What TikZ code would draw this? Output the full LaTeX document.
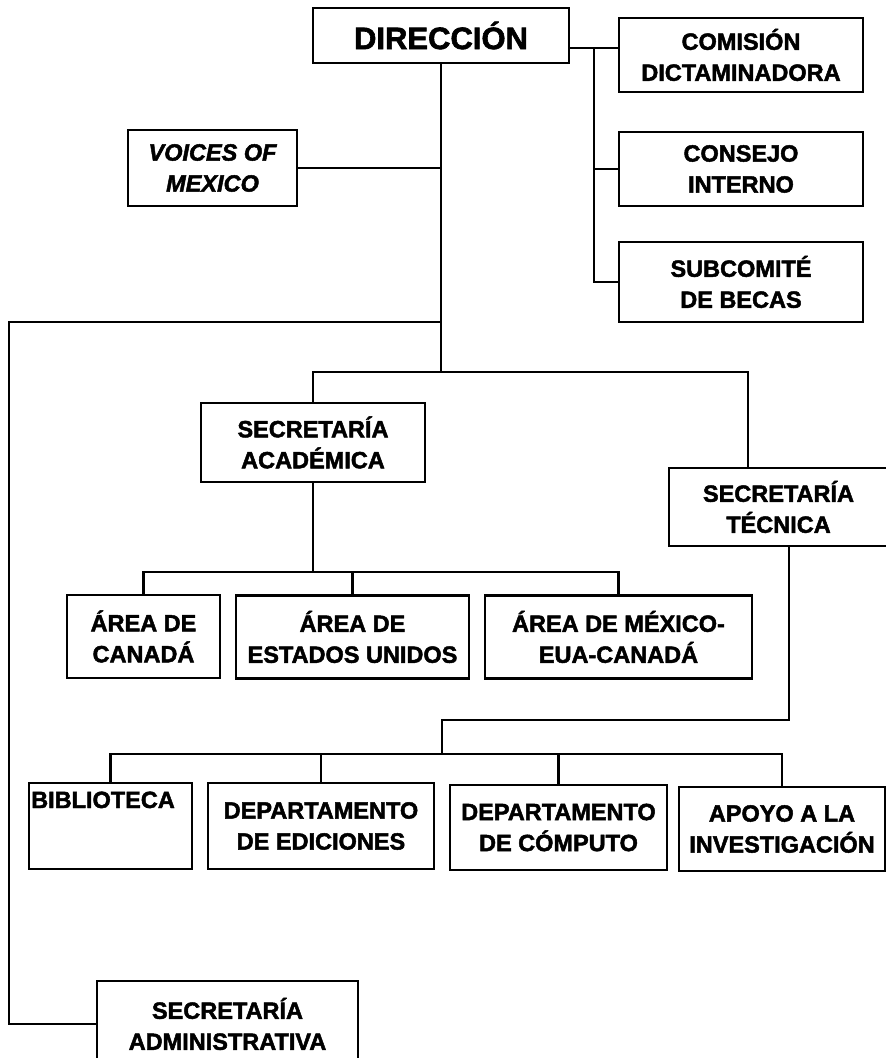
\documentclass[tikz,border=0pt]{standalone}
\usepackage{fontspec}
\setmainfont{Liberation Sans}[BoldFeatures={FakeBold=2},BoldItalicFeatures={FakeBold=2}]
\begin{document}
\begin{tikzpicture}[x=1pt,y=-1pt,
  box/.style={draw, line width=2.6pt, rectangle, align=center, inner sep=0pt,
    font=\fontsize{23.5}{31}\selectfont\bfseries},
  conn/.style={line width=2.5pt, line join=miter}]
\useasboundingbox (0,0) rectangle (886,1058);
\clip (0,0) rectangle (886,1058);
\fill[white] (0,0) rectangle (886,1058);

% boxes
\node[box, minimum width=256pt, minimum height=55pt,
  font=\fontsize{31}{36}\selectfont\bfseries] (dir) at (441,35.5) {DIRECCIÓN};
\node[box, minimum width=244pt, minimum height=74pt] (com) at (741,55) {COMISIÓN\\DICTAMINADORA};
\node[box, minimum width=244pt, minimum height=74pt] (con) at (741,169) {CONSEJO\\INTERNO};
\node[box, minimum width=244pt, minimum height=80pt] (sub) at (741,282) {SUBCOMITÉ\\DE BECAS};
\node[box, minimum width=169pt, minimum height=76pt,
  font=\fontsize{23.5}{31}\selectfont\bfseries\itshape] (voi) at (212.5,168) {VOICES OF\\MEXICO};
\node[box, minimum width=224pt, minimum height=79pt] (sa) at (313,442.5) {SECRETARÍA\\ACADÉMICA};
\node[box, minimum width=219pt, minimum height=78pt] (st) at (778.5,507) {SECRETARÍA\\TÉCNICA};
\node[box, minimum width=153pt, minimum height=83pt] (can) at (143.5,636.5) {ÁREA DE\\CANADÁ};
\node[box, minimum width=233pt, minimum height=83pt] (eu) at (352.5,637) {ÁREA DE\\ESTADOS UNIDOS};
\node[box, minimum width=267pt, minimum height=83pt] (mex) at (618.5,637) {ÁREA DE MÉXICO-\\EUA-CANADÁ};
\node[box, minimum width=163pt, minimum height=86pt] (bib) at (110.5,826) {};
\node[anchor=base west, inner sep=0pt, font=\fontsize{23.5}{31}\selectfont\bfseries] (bibt) at (31,808) {BIBLIOTECA};
\node[box, minimum width=226pt, minimum height=86pt] (edi) at (321,826) {DEPARTAMENTO\\DE EDICIONES};
\node[box, minimum width=217pt, minimum height=85pt] (cmp) at (558.5,827.5) {DEPARTAMENTO\\DE CÓMPUTO};
\node[box, minimum width=206pt, minimum height=84pt] (apo) at (782,829) {APOYO A LA\\INVESTIGACIÓN};
\node[box, minimum width=261pt, minimum height=86pt] (adm) at (227.5,1024) {SECRETARÍA\\ADMINISTRATIVA};

% junction coordinates
\coordinate (barL) at (441,322);
\coordinate (barA) at (441,372);
\coordinate (lc) at (9,322);
\coordinate (rj) at (594,48);
\coordinate (barB) at (313,572);
\coordinate (tj) at (442,720);
\coordinate (barC) at (442,754);

% connectors
\draw[conn] (dir.south) -- (barA);
\draw[conn] (voi.east) -- (voi.east -| dir.south);
\draw[conn] (barL) -- (lc) |- (adm.west);
\draw[conn] (dir.east |- rj) -- (com.west |- rj);
\draw[conn] (rj) |- (sub.west);
\draw[conn] (rj |- con.west) -- (con.west);
\draw[conn] (sa.north) |- (barA) -| ([xshift=-30.5pt]st.north);
\draw[conn] (sa.south) -- (barB);
\draw[conn] (can.north) |- (barB) -| (mex.north);
\draw[conn] (eu.north) -- (eu.north |- barB);
\draw[conn] ([xshift=10.5pt]st.south) |- (tj) -- (barC);
\draw[conn] (bib.north) |- (barC) -| (apo.north);
\draw[conn] (edi.north) -- (edi.north |- barC);
\draw[conn] (cmp.north) -- (cmp.north |- barC);
\end{tikzpicture}
\end{document}
